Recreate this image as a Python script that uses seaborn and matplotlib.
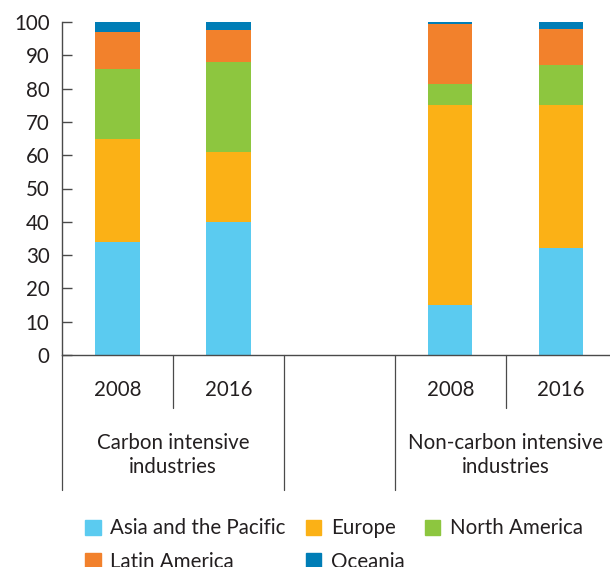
import matplotlib
matplotlib.use("Agg")
import matplotlib.pyplot as plt
import matplotlib.patches as mpatches
import matplotlib.transforms as mtransforms
import seaborn as sns
import numpy as np

# ---- data ----
categories = ["C2008", "C2016", "N2008", "N2016"]
order = ["C2008", "C2016", "gap", "N2008", "N2016"]
year_labels = ["2008", "2016", "", "2008", "2016"]
group_labels = ["Carbon intensive\nindustries", "Non-carbon intensive\nindustries"]
series_names = ["Asia and the Pacific", "Europe", "North America", "Latin America", "Oceania"]
asia = [34, 40, 15, 32]
europe = [31, 21, 60, 43]
north_america = [21, 27, 6.5, 12]
latin_america = [11, 9.5, 18, 11]
oceania = [3, 2.5, 0.5, 2]
colors = ["#5BCBF0", "#FBB116", "#8DC63F", "#F2812C", "#007DB6"]

sns.set_theme(style="white")
plt.rcParams["font.family"] = ["Lato", "DejaVu Sans"]
text_color = "#231F20"
line_color = "#4a4a4a"
fs = 14.8

fig = plt.figure(figsize=(6.10, 5.67), dpi=100)
ax = fig.add_axes([62 / 610, 1 - 355 / 567, 1 - 62 / 610, (355 - 22) / 567])

series = [asia, europe, north_america, latin_america, oceania]
cum = np.cumsum(np.array(series, dtype=float), axis=0)
for i in range(len(series) - 1, -1, -1):
    sns.barplot(x=categories, y=cum[i], order=order, color=colors[i], width=0.4,
                saturation=1, errorbar=None, ax=ax, linewidth=0)

ax.set_xlim(-0.5, 4.44)
ax.set_ylim(0, 100)
ax.set_yticks(range(0, 101, 10))
ax.set_xticks(range(len(order)))
ax.set_xticklabels(year_labels)
ax.set_xlabel("")
ax.set_ylabel("")
for s in ["top", "right"]:
    ax.spines[s].set_visible(False)
for s in ["left", "bottom"]:
    ax.spines[s].set_color(line_color)
    ax.spines[s].set_linewidth(1.0)
ax.tick_params(axis="y", direction="in", length=7, width=1, color=line_color,
               labelsize=fs, labelcolor=text_color, pad=9, left=True)
ax.tick_params(axis="x", length=0, labelsize=fs, labelcolor=text_color, pad=18)

trans = mtransforms.blended_transform_factory(ax.transData, ax.transAxes)
for xv in [-0.5, 1.5, 2.5]:
    ax.plot([xv, xv], [0, -0.405], transform=trans, color=line_color, lw=0.9, clip_on=False)
for xv in [0.5, 3.5]:
    ax.plot([xv, xv], [0, -0.16], transform=trans, color=line_color, lw=0.9, clip_on=False)

ax.text(0.5, -0.235, group_labels[0], transform=trans, ha="center", va="top",
        fontsize=fs, color=text_color, linespacing=1.22)
ax.text(3.5, -0.235, group_labels[1], transform=trans, ha="center", va="top",
        fontsize=fs, color=text_color, linespacing=1.22)

handles = [mpatches.Patch(color=c, label=n) for c, n in zip(colors, series_names)]
idx = [0, 3, 1, 4, 2]
fig.legend([handles[i] for i in idx], [series_names[i] for i in idx], ncol=3,
           loc="upper left", bbox_to_anchor=(75 / 610, 1 - 508 / 567), frameon=False,
           fontsize=fs, handlelength=0.75, handleheight=0.75, handletextpad=0.45,
           columnspacing=1.0, labelspacing=0.65, labelcolor=text_color, borderpad=0)

fig.savefig("out.png", dpi=100)
